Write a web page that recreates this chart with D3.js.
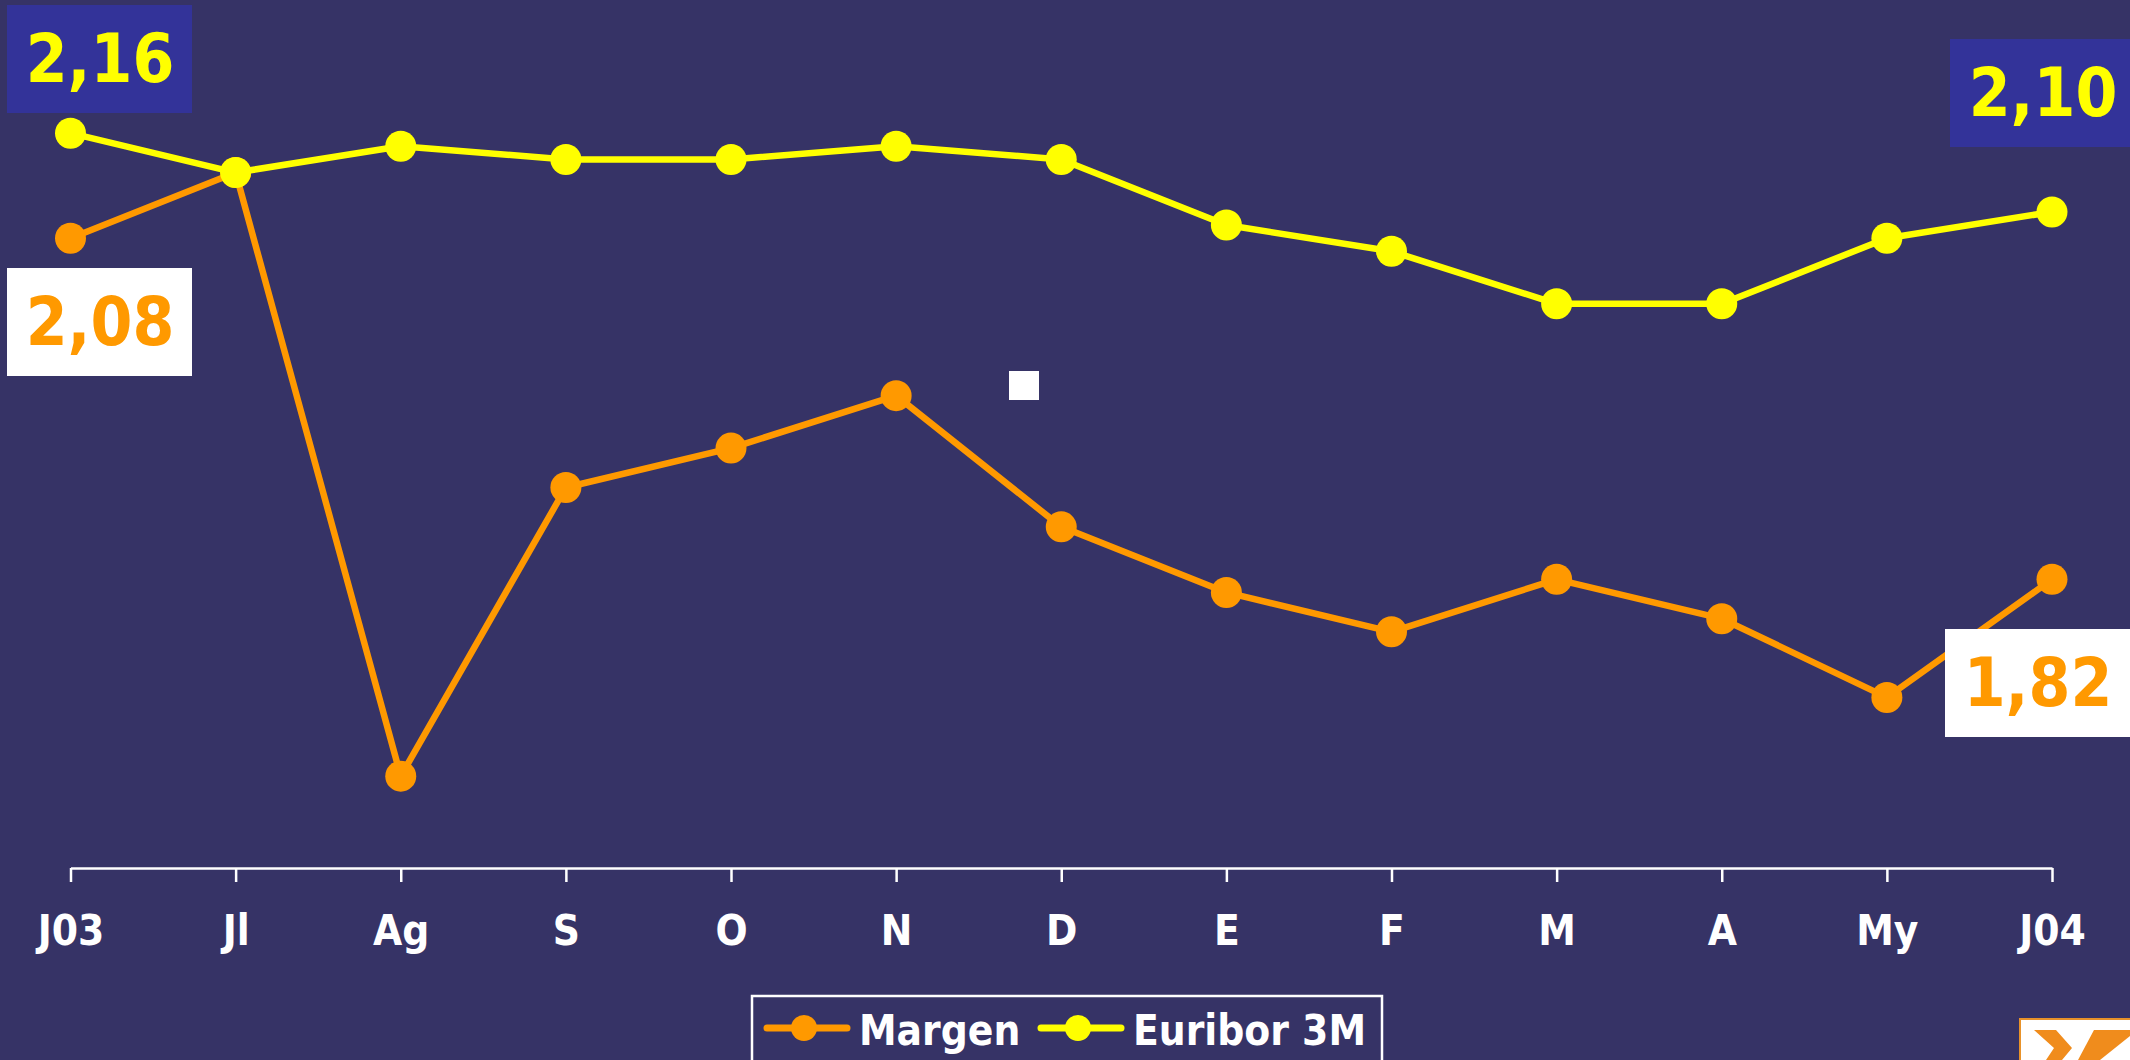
<!DOCTYPE html>
<html>
<head>
<meta charset="utf-8">
<script src="https://cdn.jsdelivr.net/npm/d3@7"></script>
<style>
    html, body { margin: 0; padding: 0; background: #363366; }
    svg { display: block; }
    text { font-family: 'DejaVu Sans Condensed', 'DejaVu Sans', sans-serif; font-stretch: condensed; font-weight: bold; }
</style>
</head>
<body>
<svg id="chart" width="2130" height="1060"></svg>
<script>
var months = ['J03', 'Jl', 'Ag', 'S', 'O', 'N', 'D', 'E', 'F', 'M', 'A', 'My', 'J04'];
var margen = [2.08, 2.13, 1.67, 1.89, 1.92, 1.96, 1.86, 1.81, 1.78, 1.82, 1.79, 1.73, 1.82];
var euribor = [2.16, 2.13, 2.15, 2.14, 2.14, 2.15, 2.14, 2.09, 2.07, 2.03, 2.03, 2.08, 2.10];
var seriesNames = ['Margen', 'Euribor 3M'];

var orange = '#ff9900';
var yellow = '#ffff00';

var svg = d3.select('#chart');
var width = 2130;
var height = 1060;
var axisY = 868;

svg.append('rect').attr('width', width).attr('height', height).attr('fill', '#363366');

var xScale = d3.scalePoint().domain(months).range([70.5, 2052]);
var yScale = d3.scaleLinear().domain([1.6, 2.26]).range([axisY, 2]);

// eje x
var xAxis = d3.axisBottom(xScale).tickSizeInner(14).tickSizeOuter(0).tickPadding(30);
var gx = svg.append('g')
    .attr('transform', 'translate(0, ' + axisY + ')')
    .call(xAxis);
gx.select('.domain').attr('stroke', '#ffffff').attr('stroke-width', 2.5);
gx.selectAll('.tick line').attr('stroke', '#ffffff').attr('stroke-width', 2.5);
gx.selectAll('.tick text')
    .attr('fill', '#ffffff')
    .attr('font-size', 42)
    .attr('dy', null)
    .attr('y', 77);

drawSeries(margen, orange);
drawSeries(euribor, yellow);

function drawSeries(values, color) {
    var line = d3.line()
        .x(function (d, i) { return xScale(months[i]); })
        .y(function (d) { return yScale(d); });
    var g = svg.append('g');
    g.append('path')
        .attr('d', line(values))
        .attr('fill', 'none')
        .attr('stroke', color)
        .attr('stroke-width', 6.5)
        .attr('stroke-linejoin', 'round');
    g.selectAll('circle')
        .data(values)
        .enter()
        .append('circle')
        .attr('cx', function (d, i) { return xScale(months[i]); })
        .attr('cy', function (d) { return yScale(d); })
        .attr('r', 15.5)
        .attr('fill', color);
}

// etiquetas de valor
function fmt(v) {
    return v.toFixed(2).replace('.', ',');
}
drawLabel(7, 5, '#333399', yellow, fmt(euribor[0]));
drawLabel(7, 268, '#ffffff', orange, fmt(margen[0]));
drawLabel(1950, 39, '#333399', yellow, fmt(euribor[euribor.length - 1]));
drawLabel(1945, 629, '#ffffff', orange, fmt(margen[margen.length - 1]));

function drawLabel(x, y, bg, fg, txt) {
    var g = svg.append('g').attr('transform', 'translate(' + x + ', ' + y + ')');
    g.append('rect').attr('width', 185).attr('height', 108).attr('fill', bg);
    g.append('text')
        .attr('x', 93)
        .attr('y', 77)
        .attr('text-anchor', 'middle')
        .attr('font-size', 67)
        .attr('fill', fg)
        .text(txt);
}

// cuadrado blanco
svg.append('rect').attr('x', 1009).attr('y', 371).attr('width', 30).attr('height', 29).attr('fill', '#ffffff');

// leyenda
var legend = svg.append('g');
legend.append('rect')
    .attr('x', 752).attr('y', 996)
    .attr('width', 630).attr('height', 100)
    .attr('fill', 'none')
    .attr('stroke', '#ffffff')
    .attr('stroke-width', 2.5);
var legendItems = [
    { name: seriesNames[0], color: orange, x0: 764 },
    { name: seriesNames[1], color: yellow, x0: 1038 }
];
legendItems.forEach(function (item) {
    legend.append('line')
        .attr('x1', item.x0 + 3).attr('x2', item.x0 + 83)
        .attr('y1', 1028).attr('y2', 1028)
        .attr('stroke', item.color)
        .attr('stroke-width', 7)
        .attr('stroke-linecap', 'round');
    legend.append('circle')
        .attr('cx', item.x0 + 40).attr('cy', 1028)
        .attr('r', 13)
        .attr('fill', item.color);
    legend.append('text')
        .attr('x', item.x0 + 95)
        .attr('y', 1045)
        .attr('font-size', 42)
        .attr('fill', '#ffffff')
        .text(item.name);
});

// logo (esquina)
var logo = svg.append('g');
logo.append('rect')
    .attr('x', 2020).attr('y', 1019)
    .attr('width', 120).attr('height', 60)
    .attr('fill', '#ffffff')
    .attr('stroke', '#e8922a')
    .attr('stroke-width', 2);
logo.append('path')
    .attr('d', 'M2034,1030 L2056,1030 L2072,1048 L2062,1060 L2046,1060 L2054,1048 Z')
    .attr('fill', '#f08c1c');
logo.append('path')
    .attr('d', 'M2094,1030 L2130,1030 L2130,1036 L2100,1060 L2078,1060 Z')
    .attr('fill', '#f08c1c');
</script>
</body>
</html>
